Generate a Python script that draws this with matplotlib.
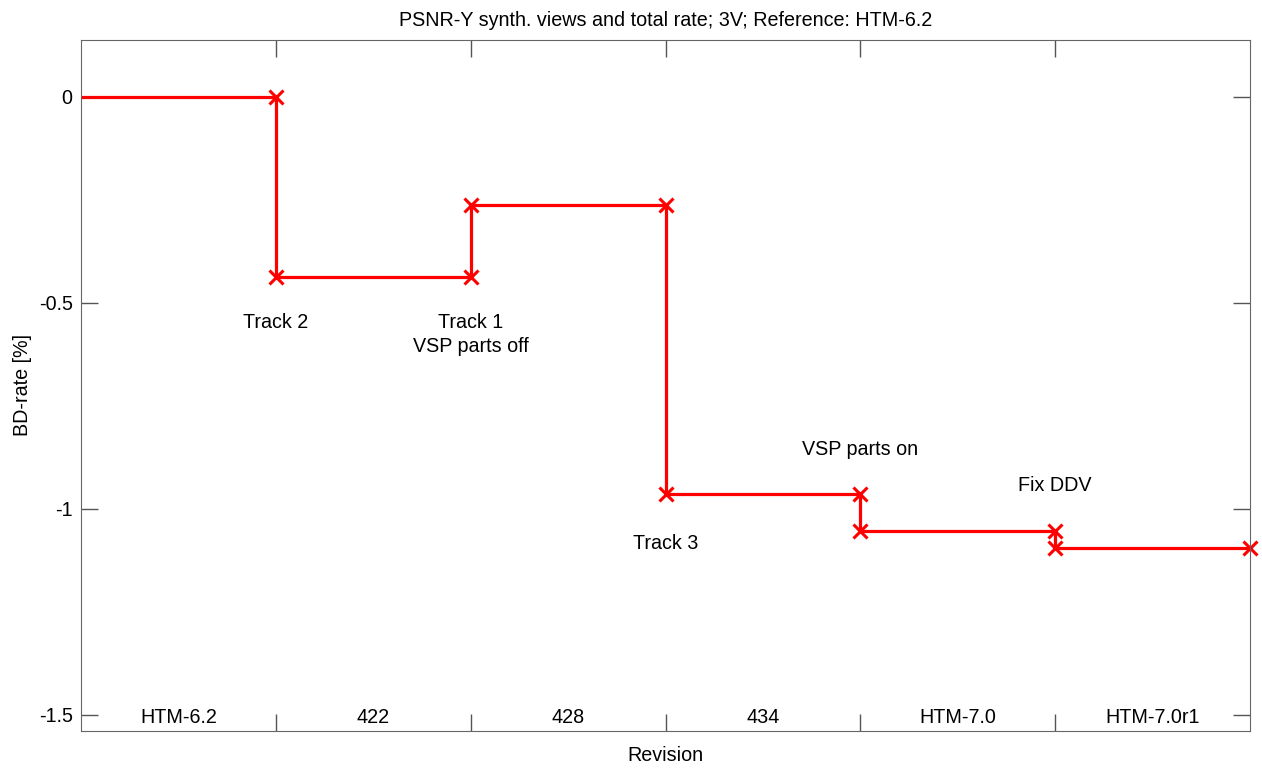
import numpy as np
import matplotlib.pyplot as plt
from matplotlib.transforms import blended_transform_factory

plt.rcParams['font.family'] = ['Liberation Sans', 'DejaVu Sans']

# Data: BD-rate after each revision (step plot)
rev_labels = ['HTM-6.2', '422', '428', '434', 'HTM-7.0', 'HTM-7.0r1']
x_pts = [0, 1, 1, 2, 2, 3, 3, 4, 4, 5, 5, 6]
bd_rate = [0, 0, -0.437, -0.437, -0.263, -0.263, -0.965, -0.965, -1.053, -1.053, -1.095, -1.095]

notes = ['Track 2', 'Track 1\nVSP parts off', 'Track 3', 'VSP parts on', 'Fix DDV']
note_x = [1, 2, 3, 4, 5]
note_y = [-0.548, -0.577, -1.083, -0.855, -0.943]

fs = 14.2

fig = plt.figure(figsize=(12.62, 7.70), dpi=100)
ax = fig.add_axes([81/1262, 1 - 731/770, (1250-81)/1262, (731-40)/770])

ax.plot(x_pts, bd_rate, color='red', linewidth=2.3, clip_on=False,
        solid_capstyle='butt')
ax.plot(x_pts[1:], bd_rate[1:], linestyle='none', marker='x', color='red',
        markersize=10, markeredgewidth=2.2, clip_on=False)

for t, xx, yy in zip(notes, note_x, note_y):
    ax.text(xx, yy, t, ha='center', va='center', fontsize=fs, linespacing=1.35)

trans = blended_transform_factory(ax.transData, ax.transAxes)
for i, lab in enumerate(rev_labels):
    ax.text(i + 0.5, 0.006, lab, transform=trans, ha='center', va='bottom', fontsize=fs)

ax.set_xlim(0, 6)
ax.set_ylim(-1.539, 0.138)
ax.set_xticks([1, 2, 3, 4, 5])
ax.set_xticklabels([])
ax.set_yticks([0, -0.5, -1, -1.5])
ax.set_yticklabels(['0', '-0.5', '-1', '-1.5'])
ax.tick_params(direction='in', length=12, width=1, color='#555555',
               top=True, right=True, labelsize=fs, pad=6)
for s in ax.spines.values():
    s.set_color('#666666')

ax.set_title('PSNR-Y synth. views and total rate; 3V; Reference: HTM-6.2', fontsize=fs, pad=10)
ax.set_xlabel('Revision', fontsize=fs, labelpad=5)
ax.set_ylabel('BD-rate [%]', fontsize=fs, labelpad=5)

fig.savefig('out.png', dpi=100)
